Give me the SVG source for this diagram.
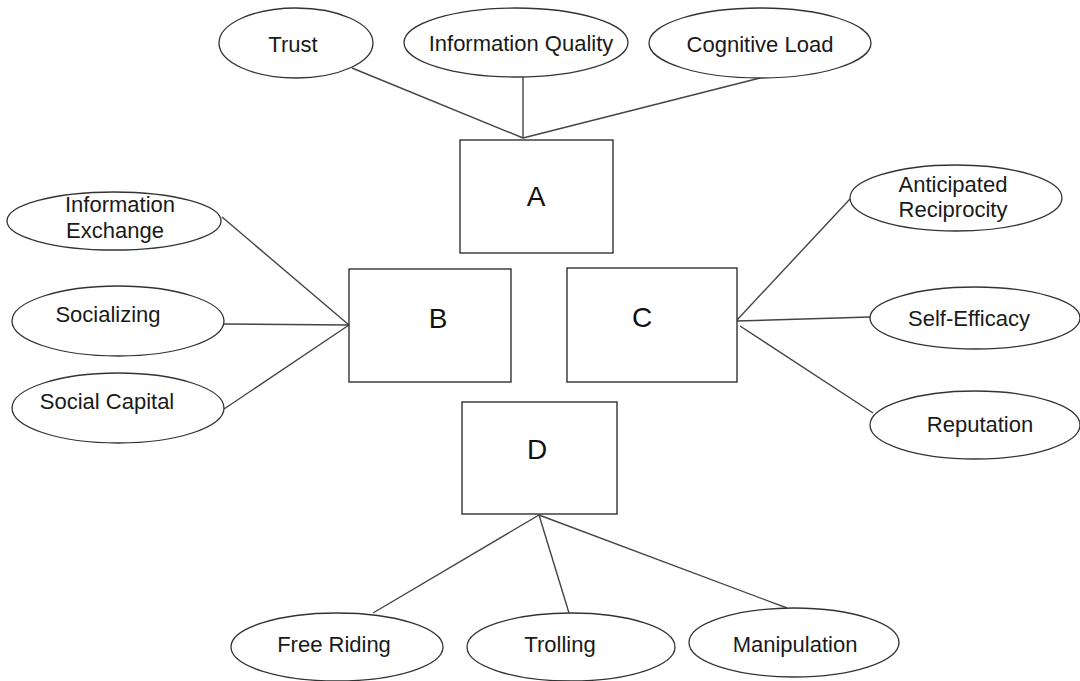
<svg xmlns="http://www.w3.org/2000/svg" width="1080" height="681" viewBox="0 0 1080 681">
<style>
.bg{fill:#ffffff}
.ell{fill:#ffffff;stroke:#333333;stroke-width:1.3}
.box{fill:#ffffff;stroke:#222222;stroke-width:1.3}
.con line{stroke:#444444;stroke-width:1.4;fill:none}
.lbl{font-family:"Liberation Sans",Arial,sans-serif;font-size:22px;fill:#1a1a1a;text-anchor:middle}
.big{font-family:"Liberation Sans",Arial,sans-serif;font-size:28px;fill:#111111;text-anchor:middle}
</style>
<rect class="bg" x="0" y="0" width="1080" height="681"/>
<g id="connectors" class="con">
<line x1="352" y1="68" x2="523" y2="138"/>
<line x1="523" y1="77" x2="523" y2="138"/>
<line x1="760" y1="78" x2="523" y2="138"/>
<line x1="222" y1="217" x2="349" y2="325"/>
<line x1="224" y1="324" x2="349" y2="325"/>
<line x1="224" y1="409" x2="349" y2="325"/>
<line x1="737" y1="320" x2="850" y2="199"/>
<line x1="737" y1="321" x2="870" y2="317"/>
<line x1="740" y1="326" x2="873" y2="413"/>
<line x1="539" y1="515" x2="373" y2="613"/>
<line x1="539" y1="515" x2="569" y2="613"/>
<line x1="539" y1="515" x2="787" y2="608"/>
</g>
<g id="node-trust"><ellipse class="ell" cx="296" cy="43" rx="77" ry="35"/><text class="lbl" x="293" y="52">Trust</text></g>
<g id="node-information-quality"><ellipse class="ell" cx="516" cy="42.5" rx="112" ry="34.5"/><text class="lbl" x="521" y="51">Information Quality</text></g>
<g id="node-cognitive-load"><ellipse class="ell" cx="760" cy="43" rx="111" ry="35"/><text class="lbl" x="760" y="52">Cognitive Load</text></g>
<g id="node-A"><rect class="box" x="460" y="140" width="153" height="113"/><text class="big" x="536" y="206">A</text></g>
<g id="node-B"><rect class="box" x="349" y="269" width="162" height="113"/><text class="big" x="438" y="328">B</text></g>
<g id="node-C"><rect class="box" x="567" y="268" width="170" height="114"/><text class="big" x="642" y="327">C</text></g>
<g id="node-D"><rect class="box" x="462" y="402" width="155" height="112"/><text class="big" x="537" y="459">D</text></g>
<g id="node-information-exchange"><ellipse class="ell" cx="114" cy="221" rx="107" ry="29"/><text class="lbl" x="120" y="212">Information</text><text class="lbl" x="115" y="238">Exchange</text></g>
<g id="node-socializing"><ellipse class="ell" cx="118" cy="321" rx="106" ry="35"/><text class="lbl" x="108" y="322">Socializing</text></g>
<g id="node-social-capital"><ellipse class="ell" cx="118" cy="408" rx="106" ry="35"/><text class="lbl" x="107" y="409">Social Capital</text></g>
<g id="node-anticipated-reciprocity"><ellipse class="ell" cx="956" cy="198" rx="106" ry="33"/><text class="lbl" x="953" y="192">Anticipated</text><text class="lbl" x="953" y="217">Reciprocity</text></g>
<g id="node-self-efficacy"><ellipse class="ell" cx="975" cy="318" rx="105" ry="31"/><text class="lbl" x="969" y="326">Self-Efficacy</text></g>
<g id="node-reputation"><ellipse class="ell" cx="975" cy="425" rx="105" ry="34"/><text class="lbl" x="980" y="432">Reputation</text></g>
<g id="node-free-riding"><ellipse class="ell" cx="337" cy="647" rx="106" ry="34"/><text class="lbl" x="334" y="652">Free Riding</text></g>
<g id="node-trolling"><ellipse class="ell" cx="571" cy="647" rx="104" ry="34"/><text class="lbl" x="560" y="652">Trolling</text></g>
<g id="node-manipulation"><ellipse class="ell" cx="794" cy="642.5" rx="105" ry="34.5"/><text class="lbl" x="795" y="652">Manipulation</text></g>
</svg>
